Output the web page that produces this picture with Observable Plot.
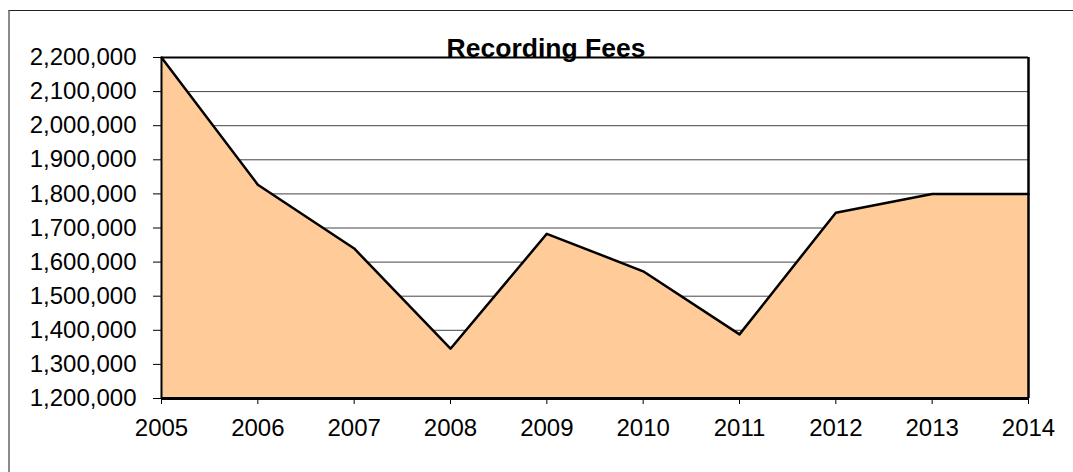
<!DOCTYPE html>
<html>
<head>
<meta charset="utf-8">
<script src="https://cdn.jsdelivr.net/npm/d3@7"></script>
<script src="https://cdn.jsdelivr.net/npm/@observablehq/plot@0.6"></script>
<style>
  html, body { margin: 0; padding: 0; background: #fff; }
  #wrap { position: relative; width: 1073px; height: 472px; overflow: hidden; }
  #border { position: absolute; left: 8px; top: 10px; width: 1200px; height: 600px;
            border-left: 2px solid #8a8a8a; border-top: 1px solid #222; pointer-events: none; }
  svg { display: block; }
</style>
</head>
<body>
<div id="wrap"><div id="border"></div></div>
<script>
const title = "Recording Fees";
const years = [2005, 2006, 2007, 2008, 2009, 2010, 2011, 2012, 2013, 2014];
const fees = [2200000, 1827000, 1640000, 1346000, 1683000, 1573000, 1388000, 1745000, 1800000, 1800000];
const yTicks = [1200000, 1300000, 1400000, 1500000, 1600000, 1700000, 1800000, 1900000, 2000000, 2100000, 2200000];
const yMin = 1200000, yMax = 2200000;

const data = years.map((y, i) => ({year: y, value: fees[i]}));

const chart = Plot.plot({
  width: 1073,
  height: 472,
  marginLeft: 161,
  marginRight: 45,
  marginTop: 57,
  marginBottom: 74,
  style: {fontFamily: "'Liberation Sans', Arial, sans-serif", fontSize: "24px", color: "#000", background: "transparent", overflow: "visible"},
  x: {domain: [years[0], years[years.length - 1]], ticks: years, tickFormat: d => String(d), tickSize: 6, tickPadding: 14, label: null},
  y: {domain: [yMin, yMax], ticks: yTicks, tickFormat: d3.format(","), tickSize: 8, tickPadding: 17, label: null},
  marks: [
    Plot.gridY(yTicks, {stroke: "#444", strokeOpacity: 1, strokeWidth: 1}),
    Plot.areaY(data, {x: "year", y1: yMin, y2: "value", fill: "#FFCC99"}),
    Plot.lineY(data, {x: "year", y: "value", stroke: "#000", strokeWidth: 2.5}),
    Plot.ruleY([yMax], {stroke: "#000", strokeWidth: 2}),
    Plot.ruleX([years[years.length - 1]], {stroke: "#000", strokeWidth: 2.5}),
    Plot.ruleX([years[0]], {stroke: "#000", strokeWidth: 2}),
    Plot.ruleY([yMin], {stroke: "#000", strokeWidth: 3}),
    Plot.text([title], {frameAnchor: "top", lineAnchor: "bottom", dy: -1, dx: -49, fontWeight: "bold", fontSize: 26.5, fill: "#000"})
  ]
});
document.getElementById("wrap").prepend(chart);
</script>
</body>
</html>
